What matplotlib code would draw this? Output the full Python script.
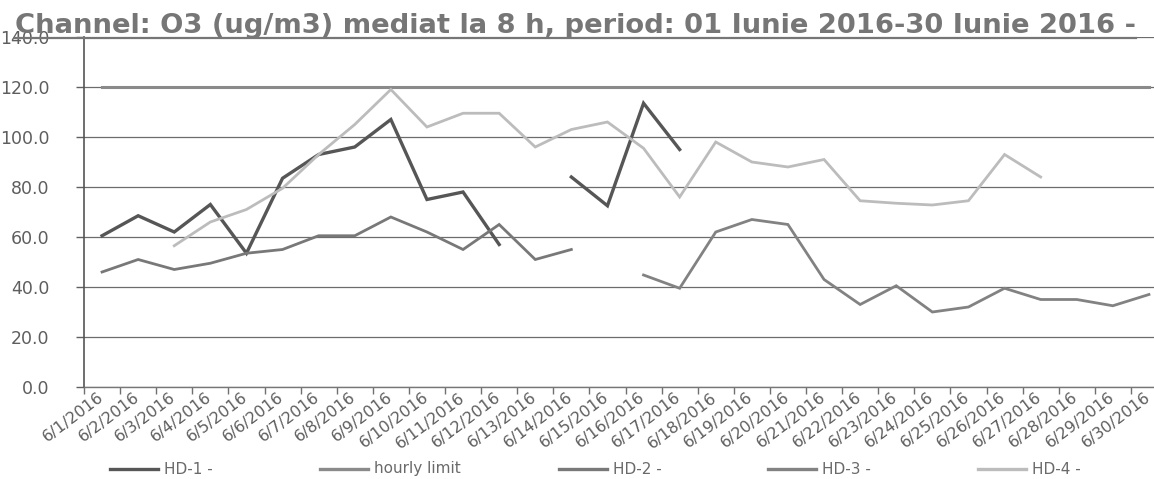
import numpy as np
import matplotlib
matplotlib.use("Agg")
import matplotlib.pyplot as plt
from matplotlib.lines import Line2D
import matplotlib.transforms as mtransforms

nan = np.nan
categories = ["6/1/2016", "6/2/2016", "6/3/2016", "6/4/2016", "6/5/2016",
              "6/6/2016", "6/7/2016", "6/8/2016", "6/9/2016", "6/10/2016",
              "6/11/2016", "6/12/2016", "6/13/2016", "6/14/2016", "6/15/2016",
              "6/16/2016", "6/17/2016", "6/18/2016", "6/19/2016", "6/20/2016",
              "6/21/2016", "6/22/2016", "6/23/2016", "6/24/2016", "6/25/2016",
              "6/26/2016", "6/27/2016", "6/28/2016", "6/29/2016", "6/30/2016"]

hd1 = [60.5, 68.5, 62.0, 73.0, 53.5, 83.5, 93.0, 96.0, 107.0, 75.0,
       78.0, 57.0, nan, 84.0, 72.5, 113.5, 95.0, nan, nan, nan,
       nan, nan, nan, nan, nan, nan, nan, nan, nan, nan]
hourly_limit = [120.0] * 30
hd2 = [46.0, 51.0, 47.0, 49.5, 53.5, 55.0, 60.5, 60.5, 68.0, 62.0,
       55.0, 65.0, 51.0, 55.0, nan, nan, nan, nan, nan, nan,
       nan, nan, nan, nan, nan, nan, nan, nan, nan, nan]
hd3 = [nan, nan, nan, nan, nan, nan, nan, nan, nan, nan,
       nan, nan, nan, nan, nan, 44.8, 39.5, 62.0, 67.0, 65.0,
       43.0, 33.0, 40.5, 30.0, 32.0, 39.5, 35.0, 35.0, 32.5, 37.0]
hd4 = [nan, nan, 56.5, 66.0, 71.0, 79.5, 93.0, 105.0, 119.0, 104.0,
       109.5, 109.5, 96.0, 103.0, 106.0, 95.5, 76.0, 98.0, 90.0, 88.0,
       91.0, 74.5, 73.5, 72.8, 74.5, 93.0, 84.0, nan, nan, nan]

series_names = ["HD-1 -", "hourly limit", "HD-2 -", "HD-3 -", "HD-4 -"]
y_ticks = [0, 20, 40, 60, 80, 100, 120, 140]
title = "Channel: O3 (ug/m3) mediat la 8 h, period: 01 Iunie 2016-30 Iunie 2016 -"

colors = ["#565656", "#8a8a8a", "#787878", "#828282", "#bcbcbc"]
widths = [2.4, 2.2, 2.0, 2.0, 2.0]

W, H = 1154, 479
fig = plt.figure(figsize=(W / 100, H / 100), dpi=100)
fig.patch.set_facecolor("white")
ax = fig.add_axes([84 / W, 92 / H, 1083 / W, 350 / H])
ax.set_facecolor("white")

x = np.arange(len(categories))
all_series = [hd1, hourly_limit, hd2, hd3, hd4]
for vals, c, lw in zip(all_series, colors, widths):
    ax.plot(x, np.array(vals, dtype=float), color=c, lw=lw,
            solid_joinstyle="miter", zorder=3)

ax.set_xlim(-0.5, len(categories) - 0.5)
ax.set_ylim(0, 140)

ax.set_yticks(y_ticks)
ax.set_yticklabels([f"{v:.1f}" for v in y_ticks])
ax.tick_params(axis="y", length=6, width=1, color="#606060", pad=19,
               labelsize=12.5, labelcolor="#5e5e5e")
ax.yaxis.grid(True, color="#6c6c6c", lw=0.9)
ax.set_axisbelow(True)

ax.set_xticks(x)
ax.set_xticks(np.arange(-0.5, len(categories), 1), minor=True)
ax.tick_params(axis="x", which="major", length=0, pad=2)
ax.tick_params(axis="x", which="minor", length=5, width=1, color="#707070")
ax.set_xticklabels(categories, rotation=37, ha="right", va="top",
                   rotation_mode="anchor", fontsize=11.5, color="#5e5e5e")
offset = mtransforms.ScaledTranslation(-5 / 100, 0, fig.dpi_scale_trans)
for lab in ax.get_xticklabels():
    lab.set_transform(lab.get_transform() + offset)

for s in ["top", "right"]:
    ax.spines[s].set_visible(False)
ax.spines["left"].set_color("#555555")
ax.spines["left"].set_linewidth(1.2)
ax.spines["bottom"].set_color("#777777")
ax.spines["bottom"].set_linewidth(1.0)

# title, fitted to the reference width, underlined
t = fig.text(15 / W, 1 - 33 / H, title, fontsize=18, fontweight="bold",
             color="#767676", ha="left", va="baseline")
fig.canvas.draw()
r = fig.canvas.get_renderer()
bb = t.get_window_extent(r)
t.set_fontsize(18 * 1129 / bb.width)
fig.canvas.draw()
bb = t.get_window_extent(r)
fig.add_artist(Line2D([bb.x0 / W, bb.x1 / W], [1 - 38 / H, 1 - 38 / H],
                      transform=fig.transFigure, color="#767676", lw=1.6))

# legend row
leg_x = [110, 320, 559, 768, 978]
leg_y = 1 - 469 / H
for name, c, lx in zip(series_names, colors, leg_x):
    fig.add_artist(Line2D([lx / W, (lx + 48) / W], [leg_y, leg_y],
                          transform=fig.transFigure, color=c, lw=2.4))
    fig.text((lx + 54) / W, leg_y, name, fontsize=11, color="#6a6a6a",
             ha="left", va="center")

fig.savefig("out.png", dpi=100, facecolor="white")
